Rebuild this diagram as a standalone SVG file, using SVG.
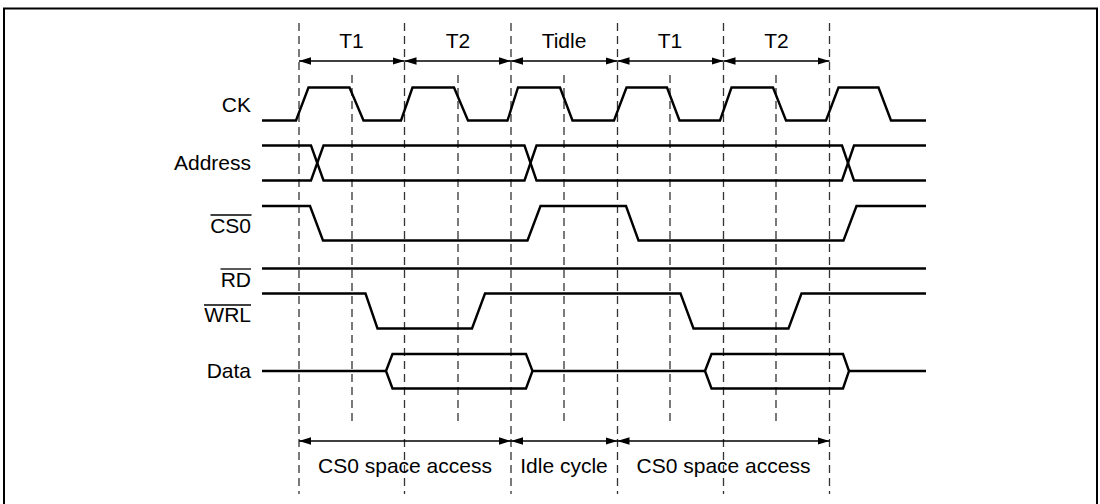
<svg xmlns="http://www.w3.org/2000/svg" width="1100" height="504" viewBox="0 0 1100 504">
  <style>
    .lbl { font-family: "Liberation Sans", Arial, sans-serif; font-size: 21px; fill: #000; }
    .r { text-anchor: end; }
    .c { text-anchor: middle; }
    .sig { fill: none; stroke: #000; stroke-width: 2.4; stroke-linejoin: miter; }
    .dash { fill: none; stroke: #333; stroke-width: 1.3; stroke-dasharray: 8 5; }
    .arr { fill: none; stroke: #000; stroke-width: 1.3; marker-start: url(#ah); marker-end: url(#ah); }
    .ovl { stroke: #000; stroke-width: 1.3; }
  </style>
  <defs>
    <marker id="ah" viewBox="0 0 12 8" refX="12" refY="4" markerWidth="12" markerHeight="8" markerUnits="userSpaceOnUse" orient="auto-start-reverse">
      <path d="M0,0.3 L12,4 L0,7.7 Z" fill="#000"/>
    </marker>
  </defs>
  <rect width="1100" height="504" fill="#fff"/>
  <path id="frame" d="M4,510 V8.5 H1097 V510" fill="none" stroke="#000" stroke-width="2"/>

  <g id="gridlines">
    <path class="dash" d="M299,23 V494 M404.5,23 V494 M511,23 V494 M617.5,23 V494 M723.5,23 V494 M829.5,23 V494"/>
    <path class="dash" d="M352,75 V422 M458,75 V422 M564,75 V422 M670,75 V422 M776,75 V422"/>
  </g>

  <g id="connectors">
    <line class="arr" x1="299" y1="61" x2="404.5" y2="61"/>
    <line class="arr" x1="404.5" y1="61" x2="511" y2="61"/>
    <line class="arr" x1="511" y1="61" x2="617.5" y2="61"/>
    <line class="arr" x1="617.5" y1="61" x2="723.5" y2="61"/>
    <line class="arr" x1="723.5" y1="61" x2="829.5" y2="61"/>
    <line class="arr" x1="299" y1="441" x2="511" y2="441"/>
    <line class="arr" x1="511" y1="441" x2="617.5" y2="441"/>
    <line class="arr" x1="617.5" y1="441" x2="829.5" y2="441"/>
  </g>

  <g id="period-labels">
    <text class="lbl c" x="351.5" y="48">T1</text>
    <text class="lbl c" x="458" y="48">T2</text>
    <text class="lbl c" x="564" y="48">Tidle</text>
    <text class="lbl c" x="670" y="48">T1</text>
    <text class="lbl c" x="776.5" y="48">T2</text>
  </g>

  <g id="ck">
    <text class="lbl r" x="251" y="112">CK</text>
    <path class="sig" d="M262,120.5 H296 L308.5,87.5 H349.5 L363.5,120.5 H401 L412.5,87.5 H454 L468,120.5 H507.5 L518,87.5 H560 L572.5,120.5 H614 L626.5,87.5 H667 L679.5,120.5 H720 L731.5,87.5 H773 L786,120.5 H826 L838.5,87.5 H878.5 L891,120.5 H926"/>
  </g>

  <g id="address">
    <text class="lbl r" x="251" y="170">Address</text>
    <path class="sig" d="M262,145.5 H311 L323.5,180.5 H524.5 L536.5,145.5 H842 L854,180.5 H926"/>
    <path class="sig" d="M262,180.5 H311 L323.5,145.5 H524.5 L536.5,180.5 H842 L854,145.5 H926"/>
  </g>

  <g id="cs0">
    <text class="lbl r" x="251" y="233">CS0</text>
    <line class="ovl" x1="210.5" y1="215" x2="251.5" y2="215"/>
    <path class="sig" d="M262,206 H310 L323,240.5 H527.5 L540.5,206 H626 L638.5,240.5 H843.5 L856.5,206 H926"/>
  </g>

  <g id="rd">
    <text class="lbl r" x="251" y="287">RD</text>
    <line class="ovl" x1="220.5" y1="269" x2="251" y2="269"/>
    <path class="sig" d="M262,268.5 H926"/>
  </g>

  <g id="wrl">
    <text class="lbl r" x="251" y="322">WRL</text>
    <line class="ovl" x1="204" y1="305" x2="251" y2="305"/>
    <path class="sig" d="M262,293.5 H365.5 L377.5,328.5 H472 L485,293.5 H680.5 L693.5,328.5 H788.5 L801.5,293.5 H926"/>
  </g>

  <g id="data">
    <text class="lbl r" x="251" y="378">Data</text>
    <path class="sig" d="M262,371 H386 M532.5,371 H705 M849,371 H926"/>
    <path class="sig" d="M386,371 L392.5,354 H526 L532.5,371 L526,388.5 H392.5 Z"/>
    <path class="sig" d="M705,371 L711.5,354 H843 L849,371 L843,388.5 H711.5 Z"/>
  </g>

  <g id="cycle-labels">
    <text class="lbl c" x="405" y="473">CS0 space access</text>
    <text class="lbl c" x="564" y="473">Idle cycle</text>
    <text class="lbl c" x="723.5" y="473">CS0 space access</text>
  </g>
</svg>
